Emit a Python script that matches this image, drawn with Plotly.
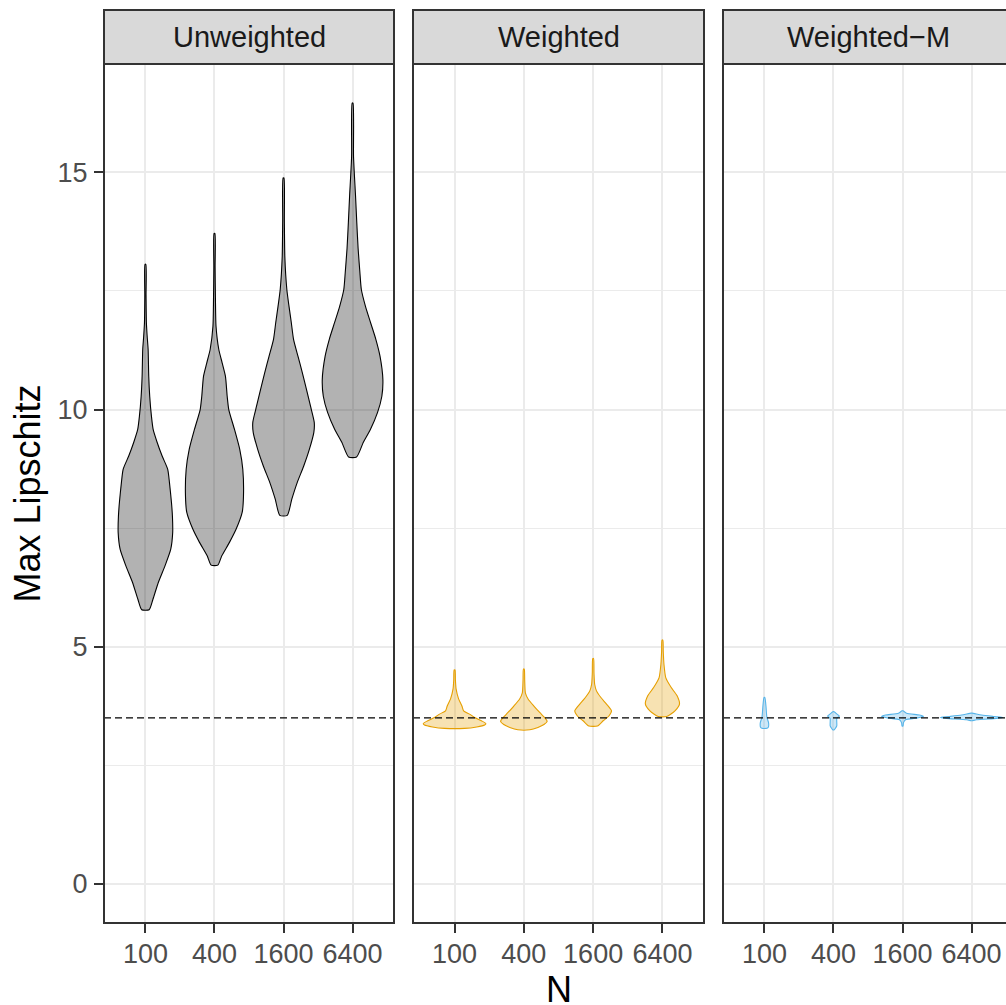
import plotly.graph_objects as go

# ---------------- data ----------------
METHODS = ["Unweighted", "Weighted", "Weighted\u2212M"]
N_LABELS = ["100", "400", "1600", "6400"]
Y_TICKS = [0, 5, 10, 15]
REF_LINE = 3.5
Y_LOWER_LIMIT = 0

# violin outlines: y values and half-widths (in category units)
UNW_100_Y = [5.78, 6.00, 6.36, 6.70, 7.05, 7.41, 7.75, 8.04, 8.46, 8.74, 9.02, 9.31, 9.58, 9.86, 10.28, 10.70, 11.27, 11.55, 11.83, 12.40, 13.06]
UNW_100_W = [0.054, 0.109, 0.188, 0.282, 0.366, 0.395, 0.391, 0.377, 0.348, 0.323, 0.242, 0.169, 0.112, 0.087, 0.062, 0.048, 0.039, 0.025, 0.014, 0.009, 0.006]
UNW_400_Y = [6.72, 6.91, 7.20, 7.48, 7.83, 8.17, 8.74, 9.16, 9.58, 10.00, 10.28, 10.70, 10.98, 11.27, 11.76, 12.32, 13.00, 13.71]
UNW_400_W = [0.048, 0.104, 0.217, 0.314, 0.401, 0.420, 0.410, 0.366, 0.290, 0.207, 0.184, 0.159, 0.112, 0.062, 0.022, 0.014, 0.009, 0.006]
UNW_1600_Y = [7.77, 8.11, 8.46, 8.80, 9.16, 9.52, 9.73, 10.07, 10.42, 10.78, 11.12, 11.48, 11.83, 12.17, 12.53, 13.22, 14.00, 14.88]
UNW_1600_W = [0.054, 0.120, 0.198, 0.290, 0.374, 0.439, 0.445, 0.391, 0.333, 0.272, 0.210, 0.145, 0.113, 0.080, 0.048, 0.019, 0.012, 0.006]
UNW_6400_Y = [9.00, 9.31, 9.58, 9.94, 10.28, 10.63, 11.12, 11.48, 11.83, 12.17, 12.53, 12.89, 13.40, 13.94, 14.50, 15.33, 16.46]
UNW_6400_W = [0.058, 0.156, 0.258, 0.362, 0.424, 0.439, 0.398, 0.337, 0.261, 0.188, 0.127, 0.106, 0.080, 0.061, 0.043, 0.014, 0.006]

WTD_100_Y = [3.28, 3.31, 3.35, 3.38, 3.44, 3.51, 3.58, 3.65, 3.75, 3.90, 4.11, 4.30, 4.51]
WTD_100_W = [0.145, 0.319, 0.434, 0.452, 0.387, 0.290, 0.217, 0.130, 0.106, 0.058, 0.022, 0.012, 0.006]
WTD_400_Y = [3.25, 3.30, 3.36, 3.43, 3.51, 3.61, 3.75, 3.90, 4.03, 4.30, 4.53]
WTD_400_W = [0.087, 0.203, 0.290, 0.336, 0.297, 0.232, 0.145, 0.061, 0.022, 0.012, 0.006]
WTD_1600_Y = [3.33, 3.44, 3.54, 3.65, 3.79, 3.93, 4.07, 4.21, 4.45, 4.75]
WTD_1600_W = [0.062, 0.145, 0.227, 0.265, 0.193, 0.112, 0.048, 0.022, 0.012, 0.006]
WTD_6400_Y = [3.53, 3.65, 3.79, 3.97, 4.14, 4.35, 4.63, 4.90, 5.14]
WTD_6400_W = [0.061, 0.181, 0.246, 0.210, 0.127, 0.048, 0.022, 0.012, 0.006]

WTM_100_Y = [3.28, 3.31, 3.36, 3.41, 3.51, 3.61, 3.75, 3.93]
WTM_100_W = [0.036, 0.058, 0.062, 0.058, 0.036, 0.029, 0.022, 0.006]
WTM_400_Y = [3.25, 3.30, 3.33, 3.40, 3.49, 3.51, 3.54, 3.58, 3.63]
WTM_400_W = [0.012, 0.036, 0.048, 0.048, 0.048, 0.065, 0.084, 0.051, 0.009]
WTM_1600_Y = [3.33, 3.40, 3.46, 3.50, 3.53, 3.56, 3.60, 3.65]
WTM_1600_W = [0.007, 0.014, 0.043, 0.217, 0.304, 0.246, 0.058, 0.007]
WTM_6400_Y = [3.44, 3.46, 3.49, 3.51, 3.53, 3.56, 3.60]
WTM_6400_W = [0.007, 0.072, 0.362, 0.456, 0.319, 0.145, 0.007]

PROFILES = [
    [(UNW_100_Y, UNW_100_W), (UNW_400_Y, UNW_400_W), (UNW_1600_Y, UNW_1600_W), (UNW_6400_Y, UNW_6400_W)],
    [(WTD_100_Y, WTD_100_W), (WTD_400_Y, WTD_400_W), (WTD_1600_Y, WTD_1600_W), (WTD_6400_Y, WTD_6400_W)],
    [(WTM_100_Y, WTM_100_W), (WTM_400_Y, WTM_400_W), (WTM_1600_Y, WTM_1600_W), (WTM_6400_Y, WTM_6400_W)],
]

# ---------------- styles / layout ----------------
W, H = 1006, 1005
LINE_COLORS = ["#000000", "#E69F00", "#56B4E9"]
FILL_COLORS = ["rgba(0,0,0,0.3)", "rgba(230,159,0,0.3)", "rgba(86,180,233,0.3)"]
FONT = "Liberation Sans, Arial, sans-serif"
GRID = "#EBEBEB"
BORDER = "#333333"
TICK_FONT = 27
STRIP_FONT = 29
TITLE_FONT = 36

PANEL_PX = [(104, 394), (413, 704), (723, 1013)]
PLOT_TOP, PLOT_BOTTOM, STRIP_TOP = 64, 923, 10
X_LO, X_HI = 0.4, 4.6


def px(x):
    return x / W


def py(y):
    return 1 - y / H


all_y = [v for method in PROFILES for (ys, _) in method for v in ys]
y_min = min(Y_LOWER_LIMIT, min(all_y))
y_max = max(all_y)
pad = 0.05 * (y_max - y_min)
y_range = [y_min - pad, y_max + pad]

fig = go.Figure()
layout = dict(
    width=W, height=H, margin=dict(l=0, r=0, t=0, b=0),
    paper_bgcolor="white", plot_bgcolor="white", showlegend=False,
    font=dict(family=FONT),
)
shapes, annotations = [], []

for k, method in enumerate(METHODS):
    sfx = "" if k == 0 else str(k + 1)
    x0p, x1p = PANEL_PX[k]
    vis_x1 = min(x1p, W)
    xr_hi = X_LO + (X_HI - X_LO) * (vis_x1 - x0p) / (x1p - x0p)
    layout["xaxis" + sfx] = dict(
        domain=[px(x0p), px(vis_x1)], range=[X_LO, xr_hi], anchor="y" + sfx,
        tickmode="array", tickvals=[1, 2, 3, 4], ticktext=N_LABELS,
        showgrid=True, gridcolor=GRID, gridwidth=2, zeroline=False, showline=False,
        ticks="outside", ticklen=9, tickwidth=2, tickcolor=BORDER,
        ticklabelstandoff=-2,
        tickfont=dict(size=TICK_FONT, color="#4D4D4D", family=FONT),
    )
    layout["yaxis" + sfx] = dict(
        domain=[py(PLOT_BOTTOM), py(PLOT_TOP)], range=y_range, anchor="x" + sfx,
        tickmode="array", tickvals=Y_TICKS, ticktext=[str(t) for t in Y_TICKS],
        showgrid=True, gridcolor=GRID, gridwidth=2, zeroline=False, showline=False,
        minor=dict(dtick=2.5, tick0=0, showgrid=True, gridcolor=GRID, gridwidth=1),
        ticks="outside" if k == 0 else "", ticklen=9, tickwidth=2, tickcolor=BORDER,
        showticklabels=(k == 0), ticklabelstandoff=1,
        tickfont=dict(size=TICK_FONT, color="#4D4D4D", family=FONT),
    )
    xa, ya = "x" + sfx, "y" + sfx

    for i, (ys, ws) in enumerate(PROFILES[k]):
        c = i + 1
        xs = [c + w for w in ws] + [c - w for w in reversed(ws)] + [c + ws[0]]
        yy = list(ys) + list(reversed(ys)) + [ys[0]]
        fig.add_trace(go.Scatter(
            x=xs, y=yy, xaxis=xa, yaxis=ya, mode="lines", fill="toself",
            fillcolor=FILL_COLORS[k],
            line=dict(color=LINE_COLORS[k], width=1.1, shape="spline", smoothing=0.6),
            hoverinfo="skip",
        ))
    fig.add_trace(go.Scatter(
        x=[X_LO, X_HI], y=[REF_LINE, REF_LINE], xaxis=xa, yaxis=ya, mode="lines",
        line=dict(color="#000000", width=1.1, dash="7px,4px"), hoverinfo="skip",
    ))

    # panel border and strip
    shapes.append(dict(type="rect", xref="paper", yref="paper",
                       x0=px(x0p), x1=px(x1p), y0=py(PLOT_BOTTOM), y1=py(PLOT_TOP),
                       line=dict(color=BORDER, width=2), fillcolor="rgba(0,0,0,0)", layer="above"))
    shapes.append(dict(type="rect", xref="paper", yref="paper",
                       x0=px(x0p), x1=px(x1p), y0=py(PLOT_TOP), y1=py(STRIP_TOP),
                       line=dict(color=BORDER, width=2), fillcolor="#D9D9D9", layer="above"))
    annotations.append(dict(text=method, xref="paper", yref="paper",
                            x=px((x0p + x1p) / 2), y=py((PLOT_TOP + STRIP_TOP) / 2),
                            xanchor="center", yanchor="middle", showarrow=False,
                            font=dict(size=STRIP_FONT, color="#1A1A1A", family=FONT)))

annotations.append(dict(text="Max Lipschitz", xref="paper", yref="paper",
                        x=px(27), y=py((PLOT_TOP + PLOT_BOTTOM) / 2), textangle=-90,
                        xanchor="center", yanchor="middle", showarrow=False,
                        font=dict(size=TITLE_FONT, color="#000000", family=FONT)))
annotations.append(dict(text="N", xref="paper", yref="paper",
                        x=px((PANEL_PX[0][0] + PANEL_PX[-1][1]) / 2), y=py(989),
                        xanchor="center", yanchor="middle", showarrow=False,
                        font=dict(size=TITLE_FONT, color="#000000", family=FONT)))

layout["shapes"] = shapes
layout["annotations"] = annotations
fig.update_layout(**layout)
fig.write_html("out.html", config={"displayModeBar": False},
               post_script="document.body.style.margin = '0';")
